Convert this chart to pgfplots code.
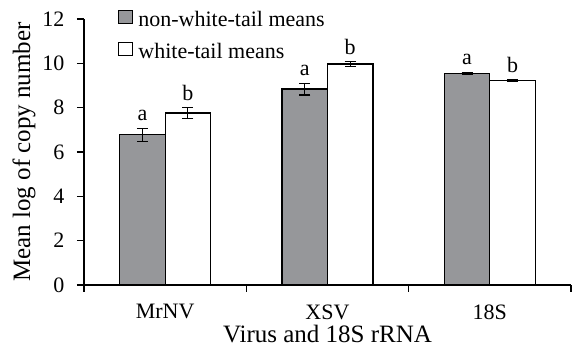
\documentclass[border=0pt]{standalone}
\usepackage{pgfplots}
\pgfplotsset{compat=1.18}
\usepackage{fontspec}
\setmainfont{Liberation Serif}
\definecolor{bargray}{RGB}{150,151,154}
\begin{document}
\begin{tikzpicture}
\begin{axis}[
  scale only axis,
  width=487pt, height=266pt,
  xmin=-0.5, xmax=2.5,
  ymin=0, ymax=12,
  axis x line*=bottom, axis y line*=left,
  axis line style={line width=1.1pt},
  every tick/.style={black, line width=1.1pt},
  tick align=outside,
  major tick length=7pt,
  xtick={-0.5,0.5,1.5,2.5},
  xticklabels={},
  extra x ticks={0,1,2},
  extra x tick labels={MrNV,XSV,18S},
  extra x tick style={major tick length=0pt},
  ytick={0,2,4,6,8,10,12},
  /pgf/number format/assume math mode=true,
  tick label style={font=\fontsize{22}{26}\selectfont},
  x tick label style={yshift=-16pt},
  y tick label style={xshift=-9pt},
  xlabel={Virus and 18S rRNA},
  ylabel={Mean log of copy number},
  label style={font=\fontsize{25}{30}\selectfont},
  xlabel style={at={(axis description cs:0.5,0)}, anchor=base, yshift=-58pt, inner sep=1pt},
  ylabel style={yshift=0pt},
  legend style={at={(0.07,1.038)}, anchor=north west, draw=none, fill=none,
    font=\fontsize{22}{26}\selectfont, row sep=11pt, inner sep=0pt,
    nodes={inner sep=2pt},
    /tikz/every odd column/.append style={column sep=3pt}},
  legend cell align=left,
  legend image code/.code={\draw[#1, line width=1.1pt] (0pt,-4pt) rectangle (14pt,9pt);},
]
\addplot[ybar, bar width=45.5pt, bar shift=0pt, fill=bargray, draw=black, line width=1.1pt,
  error bars/.cd, y dir=both, y explicit,
  error bar style={line width=1.1pt, black},
  error mark options={rotate=90, mark size=5.5pt, line width=1.1pt, black}]
  coordinates {(-0.14,6.77) +- (0,0.30) (0.86,8.84) +- (0,0.27) (1.86,9.55) +- (0,0.05)};
\addlegendentry{non-white-tail means}
\addplot[ybar, bar width=45.5pt, bar shift=0pt, fill=white, draw=black, line width=1.1pt,
  error bars/.cd, y dir=both, y explicit,
  error bar style={line width=1.1pt, black},
  error mark options={rotate=90, mark size=5.5pt, line width=1.1pt, black}]
  coordinates {(0.14,7.76) +- (0,0.23) (1.14,9.97) +- (0,0.11) (2.14,9.22) +- (0,0.05)};
\addlegendentry{white-tail means}
\addplot[forget plot, only marks, mark=none, nodes near coords, point meta=explicit symbolic,
  every node near coord/.append style={anchor=south, inner sep=0pt, yshift=7pt, font=\fontsize{22}{26}\selectfont}]
  coordinates {(-0.14,7.07)[a] (0.86,9.11)[a] (1.86,9.60)[a]};
\addplot[forget plot, only marks, mark=none, nodes near coords, point meta=explicit symbolic,
  every node near coord/.append style={anchor=south, inner sep=0pt, yshift=7pt, font=\fontsize{22}{26}\selectfont}]
  coordinates {(0.14,7.99)[b] (1.14,10.08)[b] (2.14,9.27)[b]};
\end{axis}
\path ([yshift=19pt]current axis.north) ([yshift=-62pt]current axis.south)
      ([xshift=-84pt]current axis.west) ([xshift=4pt]current axis.east);
\end{tikzpicture}
\end{document}
